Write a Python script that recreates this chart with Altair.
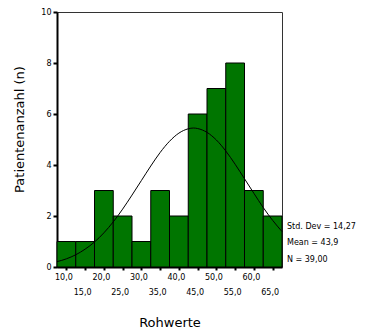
import altair as alt
import pandas as pd

# Histogram bins (centres) and counts
centers = [10, 15, 20, 25, 30, 35, 40, 45, 50, 55, 60, 65]
counts = [1, 1, 3, 2, 1, 3, 2, 6, 7, 8, 3, 2]

# Normal curve
curve_x = [7.5, 10, 12.5, 15, 17.5, 20, 22.5, 25, 27.5, 30, 32.5, 35, 37.5, 40,
           42.5, 43.9, 45, 47.5, 50, 52.5, 55, 57.5, 60, 62.5, 65, 67.5]
curve_y = [0.21, 0.32, 0.48, 0.70, 0.98, 1.34, 1.77, 2.27, 2.82, 3.39, 3.96, 4.49, 4.93, 5.25,
           5.42, 5.45, 5.43, 5.28, 4.98, 4.55, 4.03, 3.46, 2.89, 2.33, 1.83, 1.39]

stats_lines = ["Std. Dev = 14,27", "Mean = 43,9", "N = 39,00"]
stats_y = [1.57, 0.94, 0.27]

bars = pd.DataFrame({"center": centers, "count": counts})
curve = pd.DataFrame({"x": curve_x, "y": curve_y})
stats = pd.DataFrame({"label": stats_lines, "y": stats_y, "x": [67.5] * 3})

xscale = alt.Scale(domain=[7.5, 67.5], nice=False, zero=False)
yscale = alt.Scale(domain=[0, 10], nice=False)

xaxis = alt.Axis(
    values=centers,
    labelExpr="replace(format(datum.value, '.1f'), '.', ',')",
    labelFont="DejaVu Sans", labelFontSize=8, labelColor="black",
    labelPadding={"condition": {"test": "datum.value % 10 === 0", "value": 3}, "value": 18},
    labelOffset=-3,
    tickSize=3, tickWidth=2, tickColor="black",
    domainWidth=2, domainColor="black",
    grid=False,
    title="Rohwerte", titleFont="DejaVu Sans", titleFontSize=13,
    titleFontWeight="normal", titleColor="black", titlePadding=20,
    labelFlush=False, labelOverlap=False, labelBound=False,
)
yaxis = alt.Axis(
    values=[0, 2, 4, 6, 8, 10],
    labelFont="DejaVu Sans", labelFontSize=8, labelColor="black",
    labelPadding=2,
    tickSize=4, tickWidth=2, tickColor="black",
    domainWidth=2, domainColor="black",
    grid=False,
    title="Patientenanzahl (n)", titleFont="DejaVu Sans", titleFontSize=13,
    titleFontWeight="normal", titleColor="black", titlePadding=14,
    titleY=117,
)

bar_layer = alt.Chart(bars).transform_calculate(
    x0="datum.center - 2.5", x1="datum.center + 2.5"
).mark_bar(color="#007500", stroke="black", strokeWidth=1).encode(
    x=alt.X("x0:Q", scale=xscale, axis=xaxis),
    x2="x1:Q",
    y=alt.Y("count:Q", scale=yscale, axis=yaxis),
    y2=alt.datum(0),
)

line_layer = alt.Chart(curve).mark_line(color="black", strokeWidth=1, interpolate="monotone").encode(
    x=alt.X("x:Q", scale=xscale, axis=xaxis),
    y=alt.Y("y:Q", scale=yscale, axis=yaxis),
)

text_layer = alt.Chart(stats).mark_text(
    align="left", baseline="middle", dx=5, font="DejaVu Sans", fontSize=8, color="black"
).encode(
    x=alt.X("x:Q", scale=xscale, axis=xaxis),
    y=alt.Y("y:Q", scale=yscale, axis=yaxis),
    text="label:N",
)

chart = alt.layer(bar_layer, line_layer, text_layer).properties(
    width=225, height=255,
    autosize=alt.AutoSizeParams(type="none"),
    padding={"left": 57, "top": 12, "right": 95, "bottom": 64},
    background="white",
).configure_view(stroke="#333333", strokeWidth=1)

chart.save("out.html", embed_options={"renderer": "svg", "actions": False})
